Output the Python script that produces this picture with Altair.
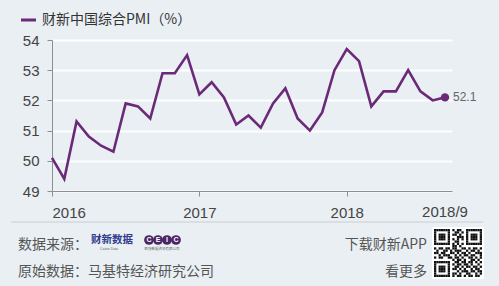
import altair as alt
import pandas as pd

# ---------------- data ----------------
months = list(range(33))  # 0 = 2016-01 ... 32 = 2018-09
pmi = [50.1, 49.4, 51.3, 50.8, 50.5, 50.3, 51.9, 51.8, 51.4, 52.9, 52.9, 53.5,
       52.2, 52.6, 52.1, 51.2, 51.5, 51.1, 51.9, 52.4, 51.4, 51.0, 51.6, 53.0,
       53.7, 53.3, 51.8, 52.3, 52.3, 53.0, 52.3, 52.0, 52.1]
x_tick_values = [0, 12, 24]
x_tick_labels = ["2016", "2017", "2018"]
last_label = "2018/9"
y_ticks = [49, 50, 51, 52, 53, 54]
title_text = "财新中国综合PMI（%）"

qr_rows = [
    "111111101011001111111",
    "100000100110101000001",
    "101110101101001011101",
    "101110100011101011101",
    "101110101010101011101",
    "100000100110001000001",
    "111111101010101111111",
    "000000001101000000000",
    "101101101100110101101",
    "010011010111001011010",
    "110110011010110100111",
    "001011100101011011001",
    "101100110110100110101",
    "000000001011010011010",
    "111111100110110110101",
    "100000101011011010010",
    "101110100110101101101",
    "101110101101010010110",
    "101110100010111011011",
    "100000101101001100101",
    "111111101011010110110",
]

PURPLE = "#6a2a78"
BG = "#e9eff3"
TXT = "#444444"
CJK = "Noto Sans CJK SC"

df = pd.DataFrame({"m": months, "pmi": pmi})
last = df.tail(1)

label_expr = " : ".join(
    f"datum.value == {v} ? '{l}'" for v, l in zip(x_tick_values, x_tick_labels)
) + " : ''"

x_scale = alt.Scale(domain=[0, 32.57], nice=False, zero=False)
y_scale = alt.Scale(domain=[49, 54], nice=False, zero=False)

x_enc = alt.X("m:Q", scale=x_scale,
              axis=alt.Axis(values=x_tick_values, tickCount=len(x_tick_values),
                            labelExpr=label_expr, title=None,
                            grid=False, tickSize=5, labelPadding=9, labelFontSize=15,
                            labelColor=TXT, domainColor="#8a8f94", tickColor="#8a8f94",
                            labelFont="Liberation Sans", labelOverlap=False))
y_enc = alt.Y("pmi:Q", scale=y_scale,
              axis=alt.Axis(values=y_ticks, tickCount=len(y_ticks), title=None, grid=True,
                            gridColor="white", gridWidth=2, gridOpacity=1, tickSize=5,
                            labelPadding=8, labelFontSize=15, labelColor=TXT,
                            domainColor="#8a8f94", tickColor="#8a8f94",
                            labelFont="Liberation Sans", labelOverlap=False,
                            labelFlush=False))

line = alt.Chart(df).mark_line(color=PURPLE, strokeWidth=2.6).encode(x=x_enc, y=y_enc)
dot = alt.Chart(last).mark_point(filled=True, color=PURPLE, size=70, opacity=1).encode(
    x="m:Q", y="pmi:Q")
dot_label = alt.Chart(last).mark_text(align="left", baseline="middle", dx=8, fontSize=12,
                                      color="#666666", font="Liberation Sans").encode(
    x="m:Q", y="pmi:Q", text=alt.Text("pmi:Q", format=".1f"))

end_tick = alt.Chart(pd.DataFrame({"m": [32], "t": [last_label]})).mark_text(
    baseline="top", fontSize=15, color=TXT, font="Liberation Sans").encode(
    x="m:Q", y=alt.value(165), text="t:N")

# title with legend swatch
swatch = alt.Chart(pd.DataFrame({"a": [1]})).mark_rule(color=PURPLE, strokeWidth=3).encode(
    x=alt.value(-31), x2=alt.value(-16), y=alt.value(-20))
title = alt.Chart(pd.DataFrame({"t": [title_text]})).mark_text(
    align="left", baseline="middle", fontSize=14, color="#333333", font=CJK).encode(
    x=alt.value(-10), y=alt.value(-20), text="t:N")

# footer
sep = alt.Chart(pd.DataFrame({"a": [1]})).mark_rule(color="#c9ced3", strokeWidth=1).encode(
    x=alt.value(-41), x2=alt.value(431), y=alt.value(182))


def ftext(t, x, y, align="left", size=14, color="#555555", weight="normal", font=CJK):
    return alt.Chart(pd.DataFrame({"t": [t]})).mark_text(
        align=align, baseline="middle", fontSize=size, color=color, font=font,
        fontWeight=weight).encode(x=alt.value(x), y=alt.value(y), text="t:N")


src = ftext("数据来源：", -34, 205)
orig = ftext("原始数据：马基特经济研究公司", -34, 232)
dl = ftext("下载财新APP", 375, 205, align="right")
more = ftext("看更多", 375, 232, align="right")
logo1 = ftext("财新数据", 39, 200, size=10.5, color="#2f3a8c", weight="bold")
logo1b = ftext("Caixin Data", 57, 209, align="center", size=3.5, color="#666666",
               font="Liberation Sans")

ceic_letters = ["C", "E", "I", "C"]
ceic_df = pd.DataFrame({"t": ceic_letters,
                        "px": [97 + 9 * i for i in range(4)],
                        "py": [200] * 4})
ceic_c = alt.Chart(ceic_df).mark_circle(color="#4b2466", size=95, opacity=1).encode(
    x=alt.X("px:Q", scale=None), y=alt.Y("py:Q", scale=None))
ceic_t = alt.Chart(ceic_df).mark_text(color="white", fontSize=7, fontWeight="bold",
                                      font="Liberation Sans", baseline="middle").encode(
    x=alt.X("px:Q", scale=None), y=alt.Y("py:Q", scale=None), text="t:N")
ceic_sub = ftext("欧冠数据资讯有限公司", 110, 209, align="center", size=3.5, color="#666666")

# QR code
n = len(qr_rows)
cell = 48 / n
qx0, qy0 = 382, 189
cells = []
for r, row in enumerate(qr_rows):
    row = row[:n].ljust(n, "0")
    for c, ch in enumerate(row):
        if ch == "1":
            cells.append({"x": qx0 + c * cell, "x2": qx0 + (c + 1) * cell,
                          "y": qy0 + r * cell, "y2": qy0 + (r + 1) * cell})
qr_df = pd.DataFrame(cells)
qr_bg = alt.Chart(pd.DataFrame({"a": [1]})).mark_rect(color="white").encode(
    x=alt.value(qx0 - 2), x2=alt.value(qx0 + 50), y=alt.value(qy0 - 2), y2=alt.value(qy0 + 50))
qr = alt.Chart(qr_df).mark_rect(color="#111111").encode(
    x=alt.X("x:Q", scale=None), x2="x2:Q", y=alt.Y("y:Q", scale=None), y2="y2:Q")

chart = alt.layer(
    line, dot, dot_label, end_tick, swatch, title, sep, src, orig, dl, more,
    logo1, logo1b, ceic_c, ceic_t, ceic_sub, qr_bg, qr
).properties(
    width=400, height=151,
    autosize=alt.AutoSizeParams(type="none"),
    padding={"left": 52, "top": 40, "right": 47, "bottom": 95},
    background=BG,
).configure_view(stroke=None)

chart.save("out.html", embed_options={"renderer": "svg", "actions": False})
